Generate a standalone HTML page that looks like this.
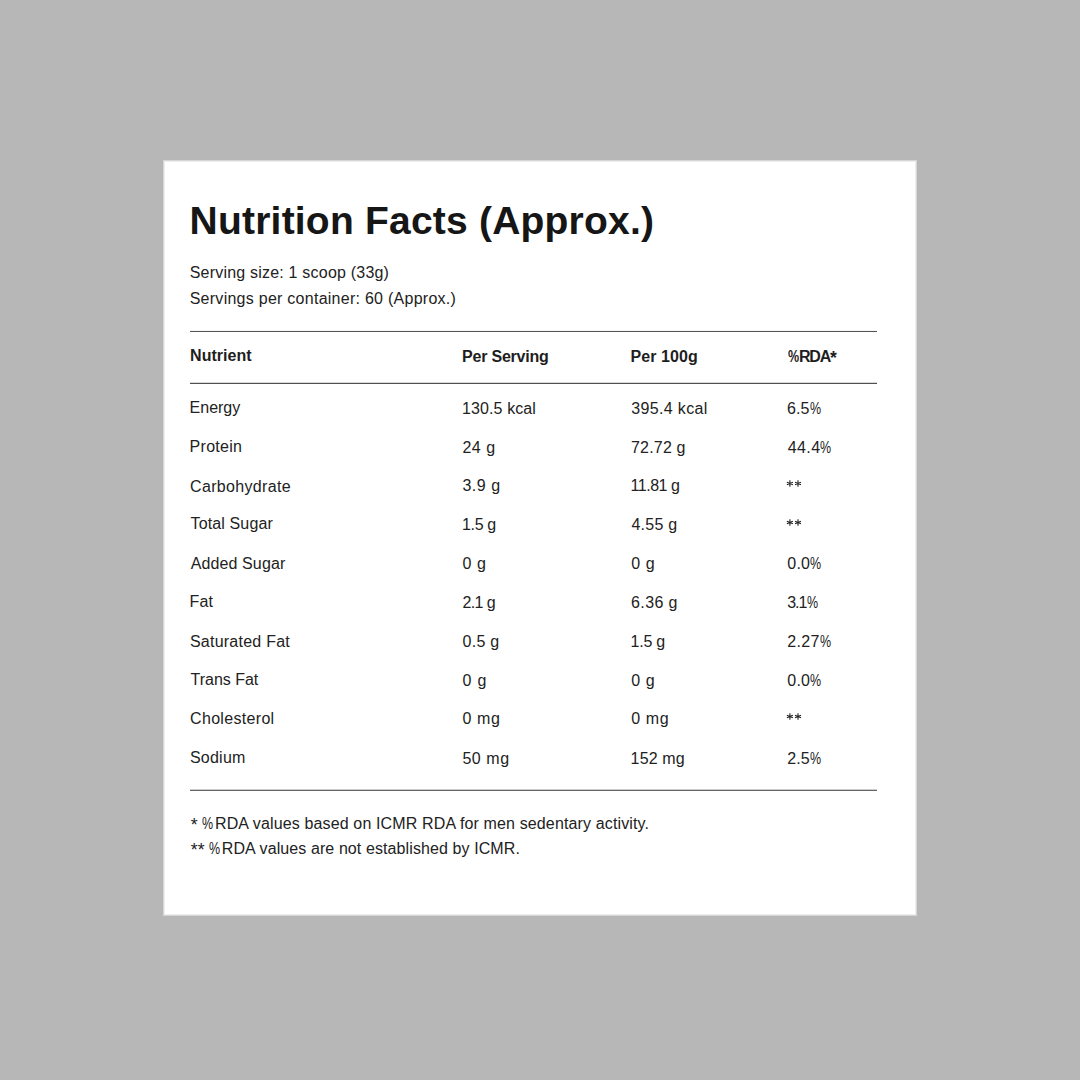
<!DOCTYPE html>
<html><head><meta charset="utf-8">
<style>
html,body{margin:0;padding:0;}
body{width:1080px;height:1080px;background:#b7b7b7;position:relative;overflow:hidden;font-family:"Liberation Sans",sans-serif;}
.card{position:absolute;left:163px;top:160px;width:754px;height:756px;background:#fff;box-sizing:border-box;border:1px solid #d6d6d6;box-shadow:inset 0 0 0 1px #efefef;}
.t{position:absolute;white-space:nowrap;line-height:1;color:#222222;}
.b{font-weight:bold;color:#1e1e1e;}
.title{color:#161616;}
.as{position:relative;top:2.2px;font-size:1.1em;line-height:0;}
.pc{display:inline-block;transform:scaleX(0.78);transform-origin:0 0;margin-right:-1.8px;}
.rule{position:absolute;left:190px;width:687px;height:1px;background:#4d4d4d;}
svg.stars{position:absolute;left:0;top:0;}
</style></head><body>
<div class="card"></div>
<div id="title" class="t b title" style="left:189.60px;top:201px;font-size:39px;letter-spacing:0.209px">Nutrition Facts (Approx.)</div>
<div id="sub1" class="t " style="left:189.70px;top:265px;font-size:16px;letter-spacing:0.206px">Serving size: 1 scoop (33g)</div>
<div id="sub2" class="t " style="left:189.70px;top:291px;font-size:16px;letter-spacing:0.261px">Servings per container: 60 (Approx.)</div>
<div id="h0" class="t b" style="left:190.06px;top:348px;font-size:16px;letter-spacing:0.044px">Nutrient</div>
<div id="h1" class="t b" style="left:462.06px;top:349px;font-size:16px;letter-spacing:-0.209px">Per Serving</div>
<div id="h2" class="t b" style="left:630.46px;top:349px;font-size:16px;letter-spacing:0.103px">Per 100g</div>
<div id="h3" class="t b" style="left:787.78px;top:349px;font-size:16px;letter-spacing:-1.196px"><span class="pc">%</span>RDA<span class="as">*</span></div>
<div id="r0c0" class="t " style="left:189.60px;top:400px;font-size:16px;letter-spacing:-0.015px">Energy</div>
<div id="r0c1" class="t " style="left:462.11px;top:401px;font-size:16px;letter-spacing:0.091px">130.5 kcal</div>
<div id="r0c2" class="t " style="left:631.14px;top:401px;font-size:16px;letter-spacing:0.370px">395.4 kcal</div>
<div id="r0c3" class="t " style="left:787.12px;top:401px;font-size:16px;letter-spacing:0.062px">6.5<span class="pc">%</span></div>
<div id="r1c0" class="t " style="left:189.60px;top:439px;font-size:16px;letter-spacing:0.270px">Protein</div>
<div id="r1c1" class="t " style="left:462.40px;top:440px;font-size:16px;letter-spacing:0.572px">24 g</div>
<div id="r1c2" class="t " style="left:631.06px;top:440px;font-size:16px;letter-spacing:0.177px">72.72 g</div>
<div id="r1c3" class="t " style="left:787.66px;top:440px;font-size:16px;letter-spacing:0.410px">44.4<span class="pc">%</span></div>
<div id="r2c0" class="t " style="left:190.05px;top:479px;font-size:16px;letter-spacing:0.331px">Carbohydrate</div>
<div id="r2c1" class="t " style="left:462.42px;top:478px;font-size:16px;letter-spacing:0.509px">3.9 g</div>
<div id="r2c2" class="t " style="left:630.62px;top:478px;font-size:16px;letter-spacing:-0.503px">11.81 g</div>
<div id="r2c3" class="t ph" style="left:786px;top:480px;width:16px;height:8px"></div>
<div id="r3c0" class="t " style="left:190.60px;top:516px;font-size:16px;letter-spacing:0.122px">Total Sugar</div>
<div id="r3c1" class="t " style="left:462.11px;top:517px;font-size:16px;letter-spacing:-0.408px">1.5 g</div>
<div id="r3c2" class="t " style="left:631.38px;top:517px;font-size:16px;letter-spacing:0.273px">4.55 g</div>
<div id="r3c3" class="t ph" style="left:786px;top:518px;width:16px;height:8px"></div>
<div id="r4c0" class="t " style="left:190.67px;top:556px;font-size:16px;letter-spacing:0.119px">Added Sugar</div>
<div id="r4c1" class="t " style="left:462.62px;top:556px;font-size:16px;letter-spacing:0.578px">0 g</div>
<div id="r4c2" class="t " style="left:631.18px;top:556px;font-size:16px;letter-spacing:0.661px">0 g</div>
<div id="r4c3" class="t " style="left:787.36px;top:556px;font-size:16px;letter-spacing:0.119px">0.0<span class="pc">%</span></div>
<div id="r5c0" class="t " style="left:189.60px;top:594px;font-size:16px;letter-spacing:0.121px">Fat</div>
<div id="r5c1" class="t " style="left:462.40px;top:595px;font-size:16px;letter-spacing:-0.589px">2.1 g</div>
<div id="r5c2" class="t " style="left:631.06px;top:595px;font-size:16px;letter-spacing:0.386px">6.36 g</div>
<div id="r5c3" class="t " style="left:787.16px;top:595px;font-size:16px;letter-spacing:-0.953px">3.1<span class="pc">%</span></div>
<div id="r6c0" class="t " style="left:189.92px;top:634px;font-size:16px;letter-spacing:0.244px">Saturated Fat</div>
<div id="r6c1" class="t " style="left:462.62px;top:634px;font-size:16px;letter-spacing:0.253px">0.5 g</div>
<div id="r6c2" class="t " style="left:630.62px;top:634px;font-size:16px;letter-spacing:-0.233px">1.5 g</div>
<div id="r6c3" class="t " style="left:787.16px;top:634px;font-size:16px;letter-spacing:0.332px">2.27<span class="pc">%</span></div>
<div id="r7c0" class="t " style="left:190.60px;top:672px;font-size:16px;letter-spacing:-0.026px">Trans Fat</div>
<div id="r7c1" class="t " style="left:462.62px;top:673px;font-size:16px;letter-spacing:0.712px">0 g</div>
<div id="r7c2" class="t " style="left:631.18px;top:673px;font-size:16px;letter-spacing:0.661px">0 g</div>
<div id="r7c3" class="t " style="left:787.36px;top:673px;font-size:16px;letter-spacing:0.119px">0.0<span class="pc">%</span></div>
<div id="r8c0" class="t " style="left:190.05px;top:711px;font-size:16px;letter-spacing:0.317px">Cholesterol</div>
<div id="r8c1" class="t " style="left:462.62px;top:711px;font-size:16px;letter-spacing:0.561px">0 mg</div>
<div id="r8c2" class="t " style="left:631.18px;top:711px;font-size:16px;letter-spacing:0.597px">0 mg</div>
<div id="r8c3" class="t ph" style="left:786px;top:712px;width:16px;height:8px"></div>
<div id="r9c0" class="t " style="left:189.92px;top:750px;font-size:16px;letter-spacing:0.246px">Sodium</div>
<div id="r9c1" class="t " style="left:462.38px;top:751px;font-size:16px;letter-spacing:0.554px">50 mg</div>
<div id="r9c2" class="t " style="left:630.62px;top:751px;font-size:16px;letter-spacing:0.140px">152 mg</div>
<div id="r9c3" class="t " style="left:787.16px;top:751px;font-size:16px;letter-spacing:0.180px">2.5<span class="pc">%</span></div>
<div id="f1" class="t " style="left:190.83px;top:816px;font-size:16px;letter-spacing:0.135px"><span class="as">*</span> <span class="pc">%</span>RDA values based on ICMR RDA for men sedentary activity.</div>
<div id="f2" class="t " style="left:190.83px;top:841px;font-size:16px;letter-spacing:0.097px"><span class="as">*</span><span class="as">*</span> <span class="pc">%</span>RDA values are not established by ICMR.</div>
<div class="rule" style="top:331px;background:#555555;box-shadow:0 -1px 0 #f4f4f4"></div>
<div class="rule" style="top:383px;background:#505050;box-shadow:0 -1px 0 #d8d8d8"></div>
<div class="rule" style="top:790px;background:#666666;box-shadow:0 -1px 0 #cccccc"></div>
<svg class="stars" width="1080" height="1080"><path d="M789.90 480.30L789.90 486.70M786.90 482.20L792.90 484.80M786.90 484.80L792.90 482.20M798.00 480.30L798.00 486.70M795.00 482.20L801.00 484.80M795.00 484.80L801.00 482.20M789.90 519.30L789.90 525.70M786.90 521.20L792.90 523.80M786.90 523.80L792.90 521.20M798.00 519.30L798.00 525.70M795.00 521.20L801.00 523.80M795.00 523.80L801.00 521.20M789.90 713.30L789.90 719.70M786.90 715.20L792.90 717.80M786.90 717.80L792.90 715.20M798.00 713.30L798.00 719.70M795.00 715.20L801.00 717.80M795.00 717.80L801.00 715.20" stroke="#222222" stroke-width="1.1" fill="none"/></svg>
</body></html>
